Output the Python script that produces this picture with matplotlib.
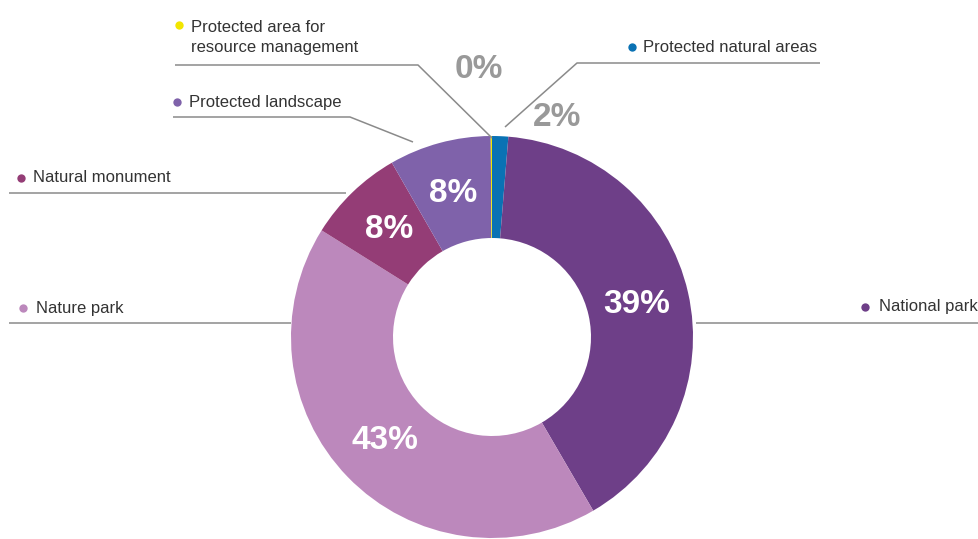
import matplotlib
matplotlib.use("Agg")
import matplotlib.pyplot as plt

# --- data --- #
categories = ["Protected natural areas", "National park", "Nature park",
              "Natural monument", "Protected landscape",
              "Protected area for\nresource management"]
shares = [1.3, 40.3, 42.3, 7.8, 8.2, 0.1]
pct_labels = ["2%", "39%", "43%", "8%", "8%", "0%"]
colors = ["#0a72b4", "#6e3f88", "#bc88bc", "#943d76", "#7f62aa", "#f2e600"]

H = 539  # image height, positions below are read top-down

plt.rcParams['font.family'] = ['Liberation Sans', 'DejaVu Sans']

fig = plt.figure(figsize=(9.79, 5.39), dpi=100)
ax = fig.add_axes([0, 0, 1, 1])

wedges, texts = ax.pie(shares, colors=colors, startangle=90, counterclock=False,
                       radius=201, center=(492, H - 337),
                       wedgeprops=dict(width=102, linewidth=0),
                       labels=pct_labels, labeldistance=0.74,
                       textprops=dict(color='white', fontsize=24, fontweight='bold',
                                      ha='center', va='center'))

# small slices get grey labels outside the ring
texts[0].set_position((557, H - 118))
texts[0].set_color('#999999')
texts[5].set_position((479, H - 69))
texts[5].set_color('#999999')

# --- leader lines --- #
lc = '#8a8a8a'
leaders = [
    [(505, 127), (577, 63), (820, 63)],
    [(696, 323), (979, 323)],
    [(9, 323), (291, 323)],
    [(9, 193), (346, 193)],
    [(173, 117), (350, 117), (413, 142)],
    [(175, 65), (418, 65), (492, 138)],
]
for pts in leaders:
    ax.plot([p[0] for p in pts], [H - p[1] for p in pts], color=lc, lw=1.1,
            solid_capstyle='butt')

# --- category labels with dots --- #
dot_pos = [(632, 47), (865, 307), (23, 308), (21, 178), (177, 102), (179, 25)]
text_pos = [(643, 47), (879, 307), (36, 308), (33, 178), (189, 102), (191, 37.5)]
for cat, col, d, t in zip(categories, colors, dot_pos, text_pos):
    ax.plot(d[0], H - d[1], 'o', color=col, markersize=6, markeredgewidth=0)
    ax.text(t[0], H - t[1], cat, fontsize=12, color='#333333', ha='left',
            va='center', linespacing=1.35)

ax.set_xlim(0, 979)
ax.set_ylim(0, H)
ax.set_aspect('equal')
ax.axis('off')

plt.savefig('out.png', dpi=100)
